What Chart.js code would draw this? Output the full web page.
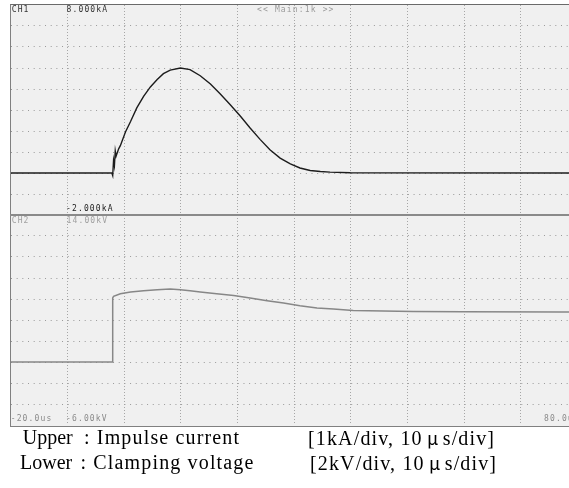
<!DOCTYPE html>
<html>
<head>
<meta charset="utf-8">
<script src="https://cdn.jsdelivr.net/npm/chart.js@4.4.1/dist/chart.umd.min.js"></script>
<style>
  html, body { margin: 0; padding: 0; background: #ffffff; overflow: hidden; width: 569px; height: 488px; }
  #scope { position: absolute; left: 10px; top: 4px; width: 600px; height: 421px; background: #f0f0f0;
           border-top: 1.5px solid #6a6a6a; border-left: 1.5px solid #808080; border-bottom: 1.5px solid #808080; }
  #divider { position: absolute; left: 10px; top: 214.3px; width: 600px; height: 1.5px; background: #8a8a8a; }
  canvas { position: absolute; left: 0; }
  .lbl { position: absolute; font-family: "DejaVu Sans Mono", monospace; font-size: 8px; line-height: 8px;
         letter-spacing: 1.15px; white-space: pre; }
  .cap { position: absolute; font-family: "Liberation Serif", "Times New Roman", serif; font-size: 20px;
         line-height: 20px; color: #000; white-space: pre; }
  .sp { letter-spacing: 1.15px; }
  .mu { display: inline-block; width: 20px; text-align: center; font-family: "Noto Sans CJK JP", serif; font-size: 18px; letter-spacing: 0; }
</style>
</head>
<body>
<div id="scope"></div>
<canvas id="c1" width="600" height="220" style="top:0px;width:600px;height:220px"></canvas>
<canvas id="c2" width="600" height="220" style="top:210px;width:600px;height:220px"></canvas>
<div id="divider"></div>

<div class="lbl" style="left:11.7px;top:5.7px;color:#333">CH1</div>
<div class="lbl" style="left:66.5px;top:5.7px;color:#333">8.000kA</div>
<div class="lbl" style="left:257px;top:5.7px;color:#9a9a9a">&lt;&lt; Main:1k &gt;&gt;</div>
<div class="lbl" style="left:66px;top:205.2px;color:#222">-2.000kA</div>
<div class="lbl" style="left:11.7px;top:216.6px;color:#a0a0a0">CH2</div>
<div class="lbl" style="left:66.5px;top:216.6px;color:#a0a0a0">14.00kV</div>
<div class="lbl" style="left:10.7px;top:415.2px;color:#8a8a8a">-20.0us</div>
<div class="lbl" style="left:66px;top:415.2px;color:#8a8a8a">-6.00kV</div>
<div class="lbl" style="left:544px;top:415.2px;color:#8a8a8a">80.0us</div>

<div class="cap" style="left:22.7px;top:427.2px">Upper</div>
<div class="cap sp" style="left:84px;top:427.2px">: Impulse current</div>
<div class="cap sp" style="left:308px;top:427.2px">[1kA/div, 10<span class="mu">μ</span>s/div]</div>
<div class="cap" style="left:20px;top:451.5px">Lower</div>
<div class="cap sp" style="left:80.5px;top:451.5px">: Clamping voltage</div>
<div class="cap sp" style="left:310px;top:451.5px">[2kV/div, 10<span class="mu">μ</span>s/div]</div>

<script>
// ---- data (time in microseconds) ----
const timeRange = [-20, 80];          // 10 us/div
const currentRange = [-2, 8];         // 1 kA/div
const voltageRange = [-6, 14];        // 2 kV/div

const currentTime = [-20, -2.2, -2.05, -1.9, -1.75, -1.6, -1.45, -1.0, -0.7, 0.2, 1.1, 2.2, 3.4, 4.6, 5.8, 6.9, 8.1, 9.9, 11.6, 13.4, 15.2, 16.9, 18.7, 20.5, 22.2, 24.0, 25.7, 27.5, 29.3, 31.0, 32.8, 34.6, 36.3, 39.9, 80];
const currentKA   = [0, 0, -0.12, 0.6, 0.35, 1.05, 0.8, 1.15, 1.3, 1.95, 2.45, 3.1, 3.65, 4.1, 4.45, 4.73, 4.9, 5.0, 4.92, 4.63, 4.24, 3.77, 3.25, 2.7, 2.14, 1.59, 1.11, 0.71, 0.43, 0.24, 0.12, 0.07, 0.04, 0.01, 0];

const voltageTime = [-20, -2.1, -2.05, -1.9, -0.7, 1.1, 3.4, 5.8, 8.1, 9.9, 11.6, 13.4, 16.3, 19.3, 22.2, 25.2, 28.1, 31.0, 34.0, 36.9, 40.4, 51.0, 59.8, 77.4, 80];
const voltageKV   = [0, 0, 6.1, 6.25, 6.5, 6.67, 6.79, 6.89, 6.95, 6.89, 6.79, 6.67, 6.5, 6.34, 6.1, 5.84, 5.62, 5.36, 5.14, 5.05, 4.91, 4.82, 4.79, 4.76, 4.76];

const toPoints = (xs, ys) => xs.map((x, i) => ({ x: x, y: ys[i] }));

function edgeHidden(min, max, color) {
  return (ctx) => {
    const v = ctx.tick && ctx.tick.value;
    return (v === min || v === max) ? 'rgba(0,0,0,0)' : color;
  };
}

function makeChart(id, points, yRange, yStep, color, width) {
  return new Chart(document.getElementById(id), {
    type: 'line',
    data: { datasets: [{ data: points, borderColor: color, borderWidth: width, pointRadius: 0, tension: 0, fill: false }] },
    options: {
      responsive: false, animation: false, devicePixelRatio: 1,
      layout: { padding: { left: 11, right: 22.4, top: 5, bottom: 5 } },
      plugins: { legend: { display: false }, tooltip: { enabled: false } },
      scales: {
        x: {
          type: 'linear', min: timeRange[0], max: timeRange[1],
          ticks: { display: false, stepSize: 10 },
          grid: { drawTicks: false, color: edgeHidden(timeRange[0], timeRange[1], '#a6a6a6'), lineWidth: 1 },
          border: { display: false, dash: [1, 2] }
        },
        y: {
          type: 'linear', min: yRange[0], max: yRange[1],
          ticks: { display: false, stepSize: yStep },
          grid: { drawTicks: false, color: edgeHidden(yRange[0], yRange[1], '#9a9a9a'), lineWidth: 1 },
          border: { display: false, dash: [1, 4.67] }
        }
      }
    }
  });
}

makeChart('c1', toPoints(currentTime, currentKA), currentRange, 1, '#1c1c1c', 1.4);
makeChart('c2', toPoints(voltageTime, voltageKV), voltageRange, 2, '#878787', 1.5);
</script>
</body>
</html>
